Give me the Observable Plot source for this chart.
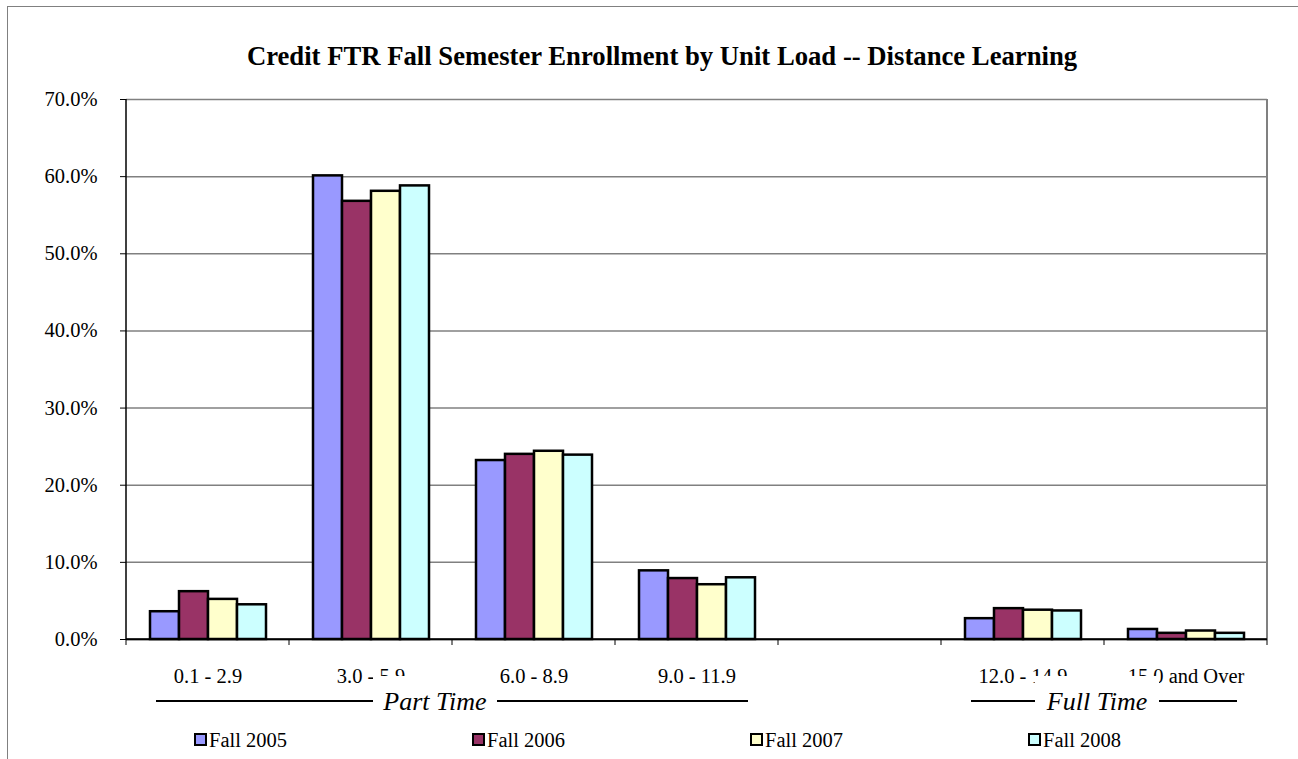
<!DOCTYPE html>
<html><head><meta charset="utf-8">
<script src="https://cdn.jsdelivr.net/npm/d3@7"></script>
<script src="https://cdn.jsdelivr.net/npm/@observablehq/plot@0.6"></script>
<style>
body{margin:0;background:#fff;}
#wrap{position:relative;width:1298px;height:759px;overflow:hidden;font-family:"Liberation Serif","Times New Roman",serif;}
#border{position:absolute;left:7px;top:6px;width:1400px;height:900px;border:1.5px solid #808080;}
#title{position:absolute;left:0;width:1324px;top:40px;text-align:center;font-weight:bold;font-size:26.7px;line-height:32px;color:#000;}
#chart{position:absolute;left:0;top:0;}
</style></head>
<body>
<div id="wrap"><div id="border"></div><div id="title"></div><div id="chart"></div></div>
<script>
const title = "Credit FTR Fall Semester Enrollment by Unit Load -- Distance Learning";
const categories = ["0.1 - 2.9","3.0 - 5.9","6.0 - 8.9","9.0 - 11.9"," ","12.0 - 14.9","15.0 and Over"];
const years = ["Fall 2005","Fall 2006","Fall 2007","Fall 2008"];
const fall2005 = [3.6, 60.1, 23.2, 8.9, null, 2.7, 1.3];
const fall2006 = [6.2, 56.8, 24.0, 7.9, null, 4.0, 0.8];
const fall2007 = [5.2, 58.1, 24.4, 7.1, null, 3.8, 1.1];
const fall2008 = [4.5, 58.8, 23.9, 8.0, null, 3.7, 0.8];
const colors = ["#9999FF","#993366","#FFFFCC","#CCFFFF"];
const yTicks = [0,10,20,30,40,50,60,70];
const groups = [{label:"Part Time", from:0, to:3}, {label:"Full Time", from:5, to:6}];

document.getElementById("title").textContent = title;
const series = [fall2005, fall2006, fall2007, fall2008];
const rows = categories.flatMap((c,i) => series.map((s,j) => ({category:c, year:years[j], value:s[i]})));

const W = 1298, H = 759, ML = 123, MR = 29, MT = 99, MB = 120;
const svgEl = Plot.plot({
  width: W, height: H, marginLeft: ML, marginRight: MR, marginTop: MT, marginBottom: MB,
  style: {fontFamily: '"Liberation Serif","Times New Roman",serif', fontSize: "20.5px", background: "transparent", color: "#000", overflow: "visible"},
  fx: {domain: categories, padding: 0, label: null, axis: null},
  x: {domain: years, axis: null, paddingInner: 0, paddingOuter: 0.77},
  y: {domain: [0,70], label: null, axis: null},
  color: {domain: years, range: colors},
  marks: [
    Plot.gridY(yTicks, {stroke: "#808080", strokeOpacity: 1, strokeWidth: 1.5}),
    Plot.axisY(yTicks, {anchor: "left", tickSize: 6, tickPadding: 23, tickFormat: d => d.toFixed(1) + "%", label: null, stroke: "#000", fill: "#000"}),
    Plot.axisFx({anchor: "bottom", tickSize: 0, tickPadding: 29, label: null, fill: "#000"}),
    Plot.ruleY([0], {stroke: "#000", strokeWidth: 1.5}),
    Plot.barY(rows, {fx: "category", x: "year", y: "value", fill: "year", stroke: "#000", strokeWidth: 2.5})
  ]
});
document.getElementById("chart").appendChild(svgEl);

const fx = svgEl.scale("fx");
const y = svgEl.scale("y");
const svg = d3.select(svgEl);
const y0 = y.apply(0), yTop = y.apply(70);
const left = fx.apply(categories[0]);
const right = fx.apply(categories[categories.length-1]) + fx.bandwidth;
const g = svg.append("g");
g.append("line").attr("x1", right).attr("x2", right).attr("y1", yTop).attr("y2", y0).attr("stroke", "#808080").attr("stroke-width", 2);
g.append("line").attr("x1", left).attr("x2", left).attr("y1", yTop).attr("y2", y0).attr("stroke", "#000").attr("stroke-width", 1.5);
g.append("line").attr("x1", left).attr("x2", right).attr("y1", y0).attr("y2", y0).attr("stroke", "#000").attr("stroke-width", 1.5);
const bounds = categories.map(c => fx.apply(c)).concat([right]);
g.selectAll("line.tk").data(bounds).join("line").attr("class","tk")
  .attr("x1", d => d).attr("x2", d => d).attr("y1", y0).attr("y2", y0 + 6).attr("stroke", "#000").attr("stroke-width", 1);

const annY = 701;
groups.forEach(grp => {
  const x1 = fx.apply(categories[grp.from]) + 30;
  const x2 = fx.apply(categories[grp.to]) + fx.bandwidth - 30;
  const cx = grp.label === "Part Time" ? 435 : 1097;
  const halfBox = 62;
  g.append("line").attr("x1", x1).attr("x2", x2).attr("y1", annY).attr("y2", annY).attr("stroke", "#000").attr("stroke-width", 2);
  g.append("rect").attr("x", cx - halfBox).attr("y", 676).attr("width", halfBox*2).attr("height", 48).attr("fill", "#fff");
  g.append("text").attr("x", cx).attr("y", annY).attr("dy", "0.35em").attr("text-anchor", "middle")
    .attr("font-style", "italic").attr("font-size", 26).attr("fill", "#000").text(grp.label);
});

const lg = svg.append("g").attr("font-size", 20.5).attr("text-anchor", "start");
years.forEach((yr, i) => {
  const lx = 195 + i * 278, ly = 740;
  lg.append("rect").attr("x", lx).attr("y", ly - 6).attr("width", 11).attr("height", 11)
    .attr("fill", colors[i]).attr("stroke", "#000").attr("stroke-width", 2);
  lg.append("text").attr("x", lx + 14).attr("y", ly).attr("dy", "0.35em").attr("text-anchor", "start").attr("fill", "#000").text(yr);
});
</script>
</body></html>
